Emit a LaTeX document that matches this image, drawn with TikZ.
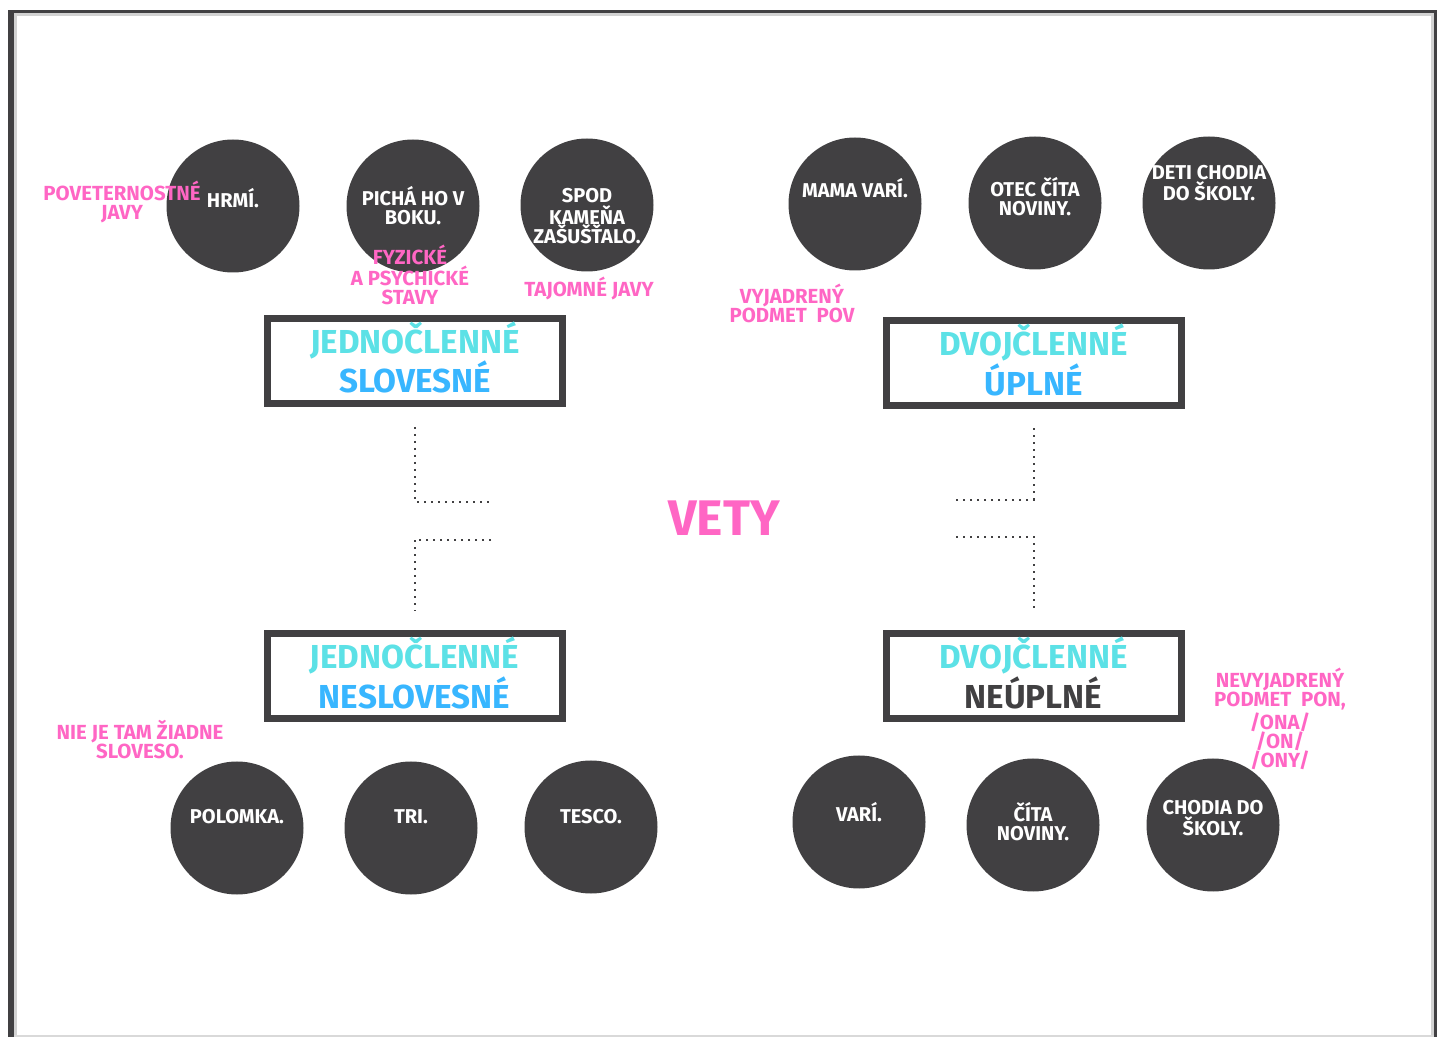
\documentclass[tikz,border=0pt]{standalone}
\usepackage{fontspec}
\setmainfont{Fira Sans}
\definecolor{vetypink}{HTML}{FF66C4}
\definecolor{tealtext}{HTML}{5CE1E6}
\definecolor{skyblue}{HTML}{38B6FF}
\definecolor{charcoal}{HTML}{414042}
\tikzset{%
    sentence/.style={circle, fill=charcoal, minimum size=66.5pt, inner sep=0pt},
    sentencetext/.style={text=white, align=center, inner sep=0pt,
        font=\bfseries\fontsize{10}{9.5}\selectfont},
    note/.style={text=vetypink, align=center, inner sep=0pt,
        font=\bfseries\fontsize{10.2}{9.5}\selectfont},
    kind/.style={draw=charcoal, line width=3.5pt, fill=white, align=center,
        minimum width=147.5pt, minimum height=42.5pt, inner sep=0pt,
        text depth=4pt,
        font=\bfseries\fontsize{16.6}{18.5}\selectfont},
    link/.style={charcoal, line width=1pt, dash pattern=on 1pt off 2.5pt}
}

\begin{document}
\begin{tikzpicture}[x=0.5pt, y=-0.5pt]

    \useasboundingbox (0, 0) rectangle (1437, 1037);

    % Page frame
    \fill[gray!35] (14, 13) rectangle (1434, 16);
    \fill[gray!35] (14, 13) rectangle (17, 1037);
    \fill[gray!35] (1431, 13) rectangle (1434, 1037);
    \fill[gray!30] (14, 1035) rectangle (1434, 1037);
    \fill[charcoal] (8, 10) rectangle (14, 1037);
    \fill[charcoal] (8, 10) rectangle (1437, 13);
    \fill[charcoal] (1434, 10) rectangle (1437, 1037);

    % Center
    \node[text=vetypink, font=\bfseries\fontsize{25}{30}\selectfont] (vety)
        at (724, 518) {VETY};

    %%% Jednoclenne slovesne
    \node[kind] (slov) at (415, 361)
        {\textcolor{tealtext}{JEDNOČLENNÉ}\\\textcolor{skyblue}{SLOVESNÉ}};

    \node[sentence] (hrmi) at (233, 206) {};
    \node[sentence] (picha) at (413, 206) {};
    \node[sentence] (spod) at (587, 205) {};
    \node[sentencetext] (hrmi-t) at (233, 198) {HRMÍ.};
    \node[sentencetext] (picha-t) at (413, 206) {PICHÁ HO V\\BOKU.};
    \node[sentencetext] (spod-t) at (587, 216) {SPOD\\KAMEŇA\\ZAŠUŠŤALO.};

    \node[note] (javy) at (122, 202) {POVETERNOSTNÉ\\JAVY};
    \node[note] (stavy) at (410, 275) {FYZICKÉ\\A PSYCHICKÉ\\STAVY};
    \node[note] (tajomne) at (589, 288) {TAJOMNÉ JAVY};

    %%% Dvojclenne uplne
    \node[kind] (upl) at (1033.5, 363.5)
        {\textcolor{tealtext}{DVOJČLENNÉ}\\\textcolor{skyblue}{ÚPLNÉ}};

    \node[sentence] (mama) at (855, 204) {};
    \node[sentence] (otec) at (1035, 203) {};
    \node[sentence] (deti) at (1209, 203) {};
    \node[sentencetext] (mama-t) at (855, 188) {MAMA VARÍ.};
    \node[sentencetext] (otec-t) at (1035, 197) {OTEC ČÍTA\\NOVINY.};
    \node[sentencetext] (deti-t) at (1209, 183) {DETI CHODIA\\DO ŠKOLY.};

    \node[note] (pov) at (792, 303) {VYJADRENÝ\\PODMET\ \ POV};

    %%% Jednoclenne neslovesne
    \node[kind] (nesl) at (414.5, 676.5)
        {\textcolor{tealtext}{JEDNOČLENNÉ}\\\textcolor{skyblue}{NESLOVESNÉ}};

    \node[sentence] (polomka) at (237, 828) {};
    \node[sentence] (tri) at (411, 828) {};
    \node[sentence] (tesco) at (591, 827) {};
    \node[sentencetext] (polomka-t) at (237, 817) {POLOMKA.};
    \node[sentencetext] (tri-t) at (411, 817) {TRI.};
    \node[sentencetext] (tesco-t) at (591, 817) {TESCO.};

    \node[note] (sloveso) at (140, 740) {NIE JE TAM ŽIADNE\\SLOVESO.};

    %%% Dvojclenne neuplne
    \node[kind] (neupl) at (1033.5, 676.5)
        {\textcolor{tealtext}{DVOJČLENNÉ}\\\textcolor{charcoal}{NEÚPLNÉ}};

    \node[sentence] (vari) at (859, 822) {};
    \node[sentence] (cita) at (1033, 825) {};
    \node[sentence] (chodia) at (1213, 825) {};
    \node[sentencetext] (vari-t) at (859, 812) {VARÍ.};
    \node[sentencetext] (cita-t) at (1033, 822) {ČÍTA\\NOVINY.};
    \node[sentencetext] (chodia-t) at (1213, 818) {CHODIA DO\\ŠKOLY.};

    \node[note] (pon) at (1280, 719) {NEVYJADRENÝ\\PODMET\ \ PON,\\/ONA/\\/ON/\\/ONY/};

    %%% Dotted links toward VETY
    \coordinate (lt) at (490, 502);
    \coordinate (lb) at (491, 540);
    \coordinate (rt) at (956, 500);
    \coordinate (rb) at (956, 537);

    \draw[link] ([yshift=-10pt] slov.south) |- (lt);
    \draw[link] (lb) -| ([yshift=9.5pt] nesl.north);
    \draw[link] ([yshift=-9.5pt] upl.south) |- (rt);
    \draw[link] (rb) -| ([yshift=8.5pt] neupl.north);

\end{tikzpicture}
\end{document}
